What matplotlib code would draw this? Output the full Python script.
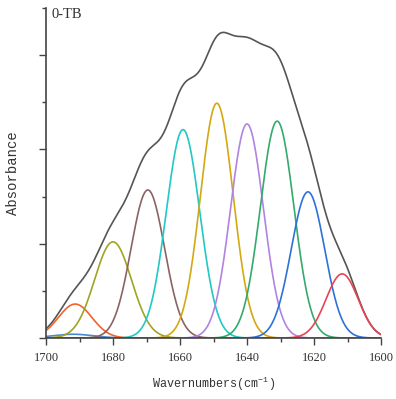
import numpy as np
import matplotlib
matplotlib.use("Agg")
import matplotlib.pyplot as plt
from matplotlib.ticker import MultipleLocator

# fitted peak parameters
centers = [1692.0, 1691.3, 1680.0, 1669.6, 1659.1, 1649.0, 1640.0, 1631.0, 1621.8, 1611.6]
heights = [0.04, 0.36, 1.02, 1.57, 2.21, 2.49, 2.27, 2.30, 1.55, 0.68]
widths = [6.0, 5.0, 5.5, 5.0, 5.0, 4.9, 4.9, 5.0, 5.0, 4.8]
colors = ["#4a8ad0", "#f0642c", "#a0a424", "#8a6464", "#22c8c4",
          "#d4a814", "#b084e0", "#34aa6c", "#2c72d8", "#e84454"]

x = np.linspace(1700, 1600, 600)
peaks = [h * np.exp(-(x - c) ** 2 / (2 * w ** 2)) for c, h, w in zip(centers, heights, widths)]
total = np.sum(peaks, axis=0)

plt.rcParams["mathtext.default"] = "regular"
fig = plt.figure(figsize=(3.96, 3.99), dpi=100)
ax = fig.add_axes([46 / 396, 1 - 338 / 399, 335 / 396, 330 / 399])

ax.plot(x, total, color="#555555", lw=1.2)
for p, col in zip(peaks, colors):
    ax.plot(x, p, color=col, lw=1.2)

ax.set_xlim(1700, 1600)
ax.set_ylim(0, 3.5)
ax.xaxis.set_major_locator(MultipleLocator(20))
ax.xaxis.set_minor_locator(MultipleLocator(10))
ax.yaxis.set_major_locator(MultipleLocator(1))
ax.yaxis.set_minor_locator(MultipleLocator(0.5))
ax.tick_params(which="both", direction="out", color="#444444", width=1)
ax.tick_params(which="major", length=5)
ax.tick_params(which="minor", length=3)
ax.tick_params(axis="x", pad=5)
ax.tick_params(axis="y", labelleft=False)
for lab in ax.get_xticklabels():
    lab.set_fontfamily("Liberation Serif")
    lab.set_fontsize(9)
    lab.set_color("#333333")
ax.spines["top"].set_visible(False)
ax.spines["right"].set_visible(False)
ax.spines["left"].set_color("#444444")
ax.spines["bottom"].set_color("#444444")
ax.spines["left"].set_linewidth(1.2)
ax.spines["bottom"].set_linewidth(1.2)

ax.set_xlabel("Wavernumbers(cm$^{-1}$)", fontfamily="Liberation Mono", fontsize=8.5,
              color="#333333", labelpad=8)
ax.set_ylabel("Absorbance", fontfamily="Liberation Mono", fontsize=10,
              color="#333333", labelpad=12)
ax.text(0.015, 1.0, "0-TB", transform=ax.transAxes, va="top", ha="left",
        fontfamily="Liberation Serif", fontsize=10.5, color="#333333")

fig.savefig("out.png", dpi=100)
